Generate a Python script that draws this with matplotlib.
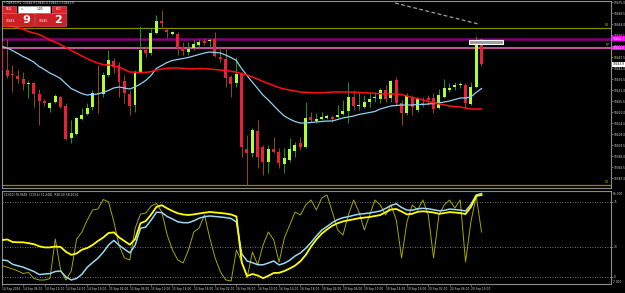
import numpy as np
import matplotlib.pyplot as plt
from matplotlib.patches import Rectangle

plt.rcParams['font.family'] = ['Liberation Sans Narrow', 'DejaVu Sans']

# GER30 H1, 14-20 Sep 2016
opens = [10455.0, 10441.0, 10438.5, 10438.0, 10436.5, 10434.0, 10434.5, 10429.0, 10425.5, 10422.0,
         10425.0, 10427.5, 10423.0, 10407.0, 10409.0, 10416.5, 10419.0, 10422.5, 10429.5, 10429.0,
         10438.5, 10445.5, 10443.5, 10435.5, 10429.0, 10423.5, 10440.0, 10451.0, 10449.5, 10459.5,
         10465.5, 10461.0, 10459.0, 10459.0, 10452.5, 10450.0, 10452.0, 10453.5, 10455.5, 10455.5,
         10456.5, 10447.5, 10446.5, 10437.5, 10434.5, 10439.5, 10401.5, 10399.5, 10410.5, 10402.5,
         10395.0, 10401.5, 10400.0, 10394.0, 10396.0, 10400.5, 10404.5, 10402.5, 10417.5, 10415.5,
         10416.5, 10417.0, 10417.5, 10417.5, 10419.0, 10420.5, 10427.5, 10423.0, 10422.5, 10425.0,
         10427.0, 10426.5, 10431.0, 10427.0, 10436.0, 10424.5, 10419.5, 10427.5, 10421.0, 10424.5,
         10427.0, 10427.0, 10422.0, 10427.5, 10431.0, 10432.5, 10433.5, 10433.5, 10424.0, 10432.5,
         10456.5]
highs = [10456.0, 10456.5, 10443.5, 10441.0, 10440.0, 10436.0, 10435.0, 10431.5, 10426.5, 10425.0,
         10429.0, 10428.0, 10424.5, 10416.0, 10417.5, 10422.0, 10424.5, 10431.0, 10443.5, 10440.0,
         10451.0, 10447.0, 10445.0, 10438.5, 10431.0, 10441.0, 10463.0, 10453.0, 10462.0, 10468.5,
         10471.0, 10462.0, 10460.5, 10460.0, 10455.0, 10455.0, 10456.0, 10456.5, 10457.0, 10457.0,
         10460.0, 10453.0, 10452.5, 10438.5, 10447.5, 10440.0, 10408.5, 10412.0, 10416.0, 10403.5,
         10403.5, 10407.5, 10402.0, 10402.0, 10407.0, 10405.0, 10407.5, 10425.0, 10420.0, 10419.5,
         10420.0, 10419.0, 10418.5, 10423.5, 10426.0, 10435.0, 10431.0, 10430.0, 10428.5, 10430.0,
         10430.0, 10432.0, 10433.5, 10436.0, 10437.5, 10426.0, 10429.5, 10428.5, 10427.5, 10427.5,
         10428.5, 10429.5, 10431.5, 10436.5, 10434.5, 10435.0, 10435.0, 10434.5, 10435.0, 10458.0,
         10457.0]
lows = [10433.5, 10437.0, 10430.0, 10434.5, 10431.0, 10427.0, 10422.5, 10413.5, 10423.0, 10420.0,
        10424.5, 10422.0, 10406.0, 10404.5, 10408.5, 10416.0, 10418.5, 10421.0, 10419.5, 10427.5,
        10437.5, 10439.5, 10427.5, 10424.5, 10418.5, 10420.0, 10439.5, 10447.5, 10448.5, 10459.0,
        10462.0, 10457.0, 10458.5, 10448.5, 10448.5, 10448.5, 10451.0, 10452.5, 10453.5, 10452.5,
        10447.5, 10445.0, 10432.5, 10427.5, 10432.5, 10397.5, 10383.5, 10397.5, 10392.0, 10388.5,
        10389.5, 10399.5, 10392.0, 10389.5, 10395.0, 10397.5, 10401.0, 10402.0, 10415.0, 10414.5,
        10416.0, 10416.5, 10415.0, 10417.0, 10418.5, 10414.5, 10421.0, 10421.0, 10422.0, 10422.5,
        10425.0, 10424.5, 10425.0, 10425.0, 10423.5, 10413.5, 10418.5, 10418.5, 10420.0, 10422.5,
        10423.5, 10419.5, 10421.5, 10427.0, 10430.0, 10431.0, 10432.0, 10422.0, 10423.5, 10432.0,
        10443.0]
closes = [10441.0, 10438.0, 10438.4, 10436.5, 10434.0, 10434.2, 10429.0, 10425.5, 10424.5, 10424.5,
          10428.0, 10422.5, 10406.5, 10409.5, 10417.0, 10418.5, 10422.0, 10429.5, 10429.3, 10438.5,
          10446.0, 10442.5, 10435.0, 10429.5, 10423.0, 10440.0, 10451.0, 10449.5, 10459.5, 10465.5,
          10464.5, 10460.0, 10460.0, 10452.0, 10450.5, 10451.5, 10454.0, 10455.0, 10454.5, 10455.6,
          10448.0, 10446.5, 10437.0, 10434.0, 10439.0, 10402.5, 10399.5, 10411.0, 10397.5, 10395.0,
          10401.5, 10400.0, 10394.5, 10397.0, 10401.5, 10403.5, 10402.5, 10417.0, 10416.0, 10416.5,
          10417.5, 10418.0, 10416.5, 10418.5, 10420.5, 10427.5, 10423.0, 10423.1, 10425.0, 10426.5,
          10427.1, 10431.0, 10426.5, 10435.5, 10424.5, 10419.5, 10428.0, 10422.5, 10426.5, 10424.0,
          10426.0, 10421.5, 10428.5, 10432.0, 10432.0, 10433.5, 10434.0, 10424.5, 10432.5, 10456.0,
          10443.9]

fast_ma = [10452.75, 10452.0, 10450.75, 10449.25, 10447.75, 10446.5, 10445.0, 10442.75, 10441.25, 10439.5,
           10438.25, 10436.75, 10434.25, 10431.75, 10430.5, 10429.25, 10428.5, 10428.75, 10429.0, 10429.75,
           10430.75, 10432.0, 10432.5, 10432.0, 10431.5, 10432.5, 10434.0, 10435.75, 10438.25, 10441.75,
           10443.25, 10444.75, 10445.75, 10446.25, 10446.75, 10447.25, 10448.0, 10448.75, 10449.5, 10450.0,
           10449.75, 10449.5, 10448.5, 10447.25, 10445.75, 10441.75, 10438.25, 10435.0, 10431.75, 10428.5,
           10426.0, 10423.25, 10420.5, 10418.0, 10416.5, 10415.25, 10414.5, 10414.5, 10414.75, 10415.0,
           10415.25, 10415.5, 10415.5, 10416.25, 10417.0, 10417.5, 10418.0, 10418.75, 10419.25, 10419.75,
           10420.25, 10421.5, 10422.25, 10423.0, 10423.25, 10423.5, 10423.5, 10423.5, 10423.75, 10423.75,
           10424.0, 10424.25, 10424.5, 10425.0, 10425.5, 10426.25, 10427.0, 10427.0, 10427.5, 10429.75,
           10431.75]
slow_ma = [10463.5, 10463.25, 10462.75, 10462.25, 10461.5, 10460.25, 10459.5, 10458.75, 10457.5, 10456.0,
           10455.0, 10453.75, 10452.25, 10450.75, 10449.5, 10448.0, 10446.75, 10445.5, 10444.5, 10443.75,
           10443.5, 10443.0, 10442.5, 10441.25, 10440.0, 10439.9, 10439.75, 10439.85, 10440.15, 10441.0,
           10441.5, 10441.85, 10442.0, 10442.0, 10441.85, 10441.6, 10441.6, 10441.75, 10441.65, 10441.5,
           10441.25, 10441.0, 10440.75, 10440.4, 10439.9, 10439.25, 10438.5, 10437.5, 10436.4, 10435.3,
           10434.25, 10433.25, 10432.2, 10431.5, 10431.0, 10430.5, 10430.0, 10429.85, 10429.7, 10429.5,
           10429.6, 10429.8, 10430.0, 10430.0, 10430.0, 10430.0, 10429.9, 10429.75, 10429.6, 10429.5,
           10429.3, 10429.15, 10429.0, 10429.0, 10429.0, 10428.75, 10428.0, 10427.25, 10426.75, 10426.0,
           10425.25, 10424.65, 10424.1, 10423.6, 10423.0, 10422.75, 10422.5, 10422.0, 10421.5, 10421.5,
           10421.5]

# indicator window (thick yellow, light blue, thin olive)
ind_yellow = [37.0, 37.5, 35.0, 34.7, 34.7, 33.8, 32.8, 30.7, 29.6, 29.6,
              30.5, 30.0, 25.2, 22.2, 23.5, 27.3, 29.0, 32.0, 36.0, 39.5,
              44.0, 44.6, 39.5, 35.9, 32.3, 38.0, 53.8, 56.0, 62.5, 70.1,
              71.8, 68.6, 66.0, 63.7, 62.5, 62.0, 62.6, 63.5, 64.3, 65.0,
              64.5, 64.0, 63.4, 62.5, 60.5, 14.5, 1.0, 3.0, 1.5, -1.2,
              1.2, 4.0, 4.2, 6.0, 8.5, 11.4, 15.7, 22.0, 30.4, 37.5,
              43.3, 47.6, 51.3, 53.8, 55.6, 56.7, 57.7, 58.8, 59.4, 60.0,
              61.0, 62.0, 64.8, 67.5, 68.0, 65.5, 62.6, 63.2, 65.2, 65.7,
              65.2, 64.5, 63.2, 63.9, 64.9, 64.5, 63.9, 63.0, 70.0, 81.0,
              82.0]
ind_blue = [17.0, 16.4, 12.7, 11.2, 9.8, 7.6, 5.5, 2.4, 3.0, 3.4,
            5.5, 6.0, 0.0, -3.0, -1.4, 2.7, 9.7, 14.4, 18.8, 24.7,
            32.0, 36.6, 31.7, 27.8, 24.0, 32.0, 48.7, 50.0, 57.0, 64.8,
            64.4, 60.5, 58.0, 55.2, 54.3, 54.3, 56.2, 58.8, 60.3, 61.0,
            60.5, 60.0, 59.4, 58.5, 55.0, 23.0, 16.0, 14.3, 12.3, 12.2,
            14.0, 16.0, 12.1, 13.7, 16.8, 21.0, 24.0, 28.7, 34.5, 41.0,
            46.8, 50.5, 54.4, 57.4, 59.3, 60.3, 61.7, 62.8, 63.4, 64.0,
            65.0, 66.0, 68.5, 71.5, 73.2, 69.5, 66.9, 66.8, 68.2, 68.7,
            68.2, 67.3, 66.2, 66.6, 67.9, 67.5, 66.9, 66.0, 72.5, 82.0,
            83.5]
ind_olive = [11.5, 9.7, 8.0, 6.0, 3.5, 4.5, -1.5, -3.0, -3.0, -1.5,
             38.0, 7.0, -3.0, 6.0, 38.0, 45.0, 57.0, 67.0, 68.0, 77.5,
             75.0, 55.0, 31.0, 19.0, 17.0, 49.0, 63.0, 64.0, 71.0, 73.5,
             65.0, 42.0, 27.0, 17.0, 14.0, 27.0, 45.0, 49.0, 62.0, 39.0,
             19.0, 5.0, -3.0, -4.0, 27.0, 15.0, -1.0, 25.0, 12.0, 32.0,
             45.0, 37.0, 15.0, 39.0, 52.0, 65.0, 62.0, 72.0, 77.0, 67.0,
             79.0, 82.0, 65.0, 47.0, 42.0, 62.0, 77.0, 65.0, 47.0, 62.0,
             77.0, 72.0, 62.0, 72.0, 57.0, 19.0, 55.0, 72.0, 67.0, 77.0,
             62.0, 19.0, 62.0, 72.0, 77.0, 69.0, 77.0, 15.0, 55.0, 81.0,
             45.0]
ind_levels = [75, 30, 0]

price_ticks = [10475.0, 10469.5, 10464.0, 10458.5, 10453.0, 10447.5, 10442.0, 10436.5, 10431.0,
               10425.5, 10420.0, 10414.5, 10409.0, 10403.5, 10398.0, 10392.5, 10387.0]
date_ticks = [0, 4, 8, 12, 16, 20, 24, 28, 32, 36, 40, 44, 48, 52, 56, 60, 64, 68, 72, 76, 80, 84, 88]
date_labels = ['14 Sep 2016', '14 Sep 06:00', '14 Sep 10:00', '14 Sep 14:00', '14 Sep 18:00',
               '15 Sep 02:00', '15 Sep 06:00', '15 Sep 10:00', '15 Sep 14:00', '15 Sep 18:00',
               '16 Sep 02:00', '16 Sep 06:00', '16 Sep 10:00', '16 Sep 14:00', '16 Sep 18:00',
               '19 Sep 02:00', '19 Sep 06:00', '19 Sep 10:00', '19 Sep 14:00', '19 Sep 18:00',
               '20 Sep 02:00', '20 Sep 06:00', '20 Sep 10:00']

# horizontal levels drawn on the chart
pivot_r1, pivot_pp, pivot_s1 = 10462.0, 10452.0, 10383.5
purple_level = 10456.7
trend_x, trend_y = [73.8, 89.4], [10474.5, 10464.0]
box_x, box_y = [87.7, 94.0], [10454.0, 10456.0]
bid, ask = '10443.9', '10445.2'

W, H = 625, 293
def fx(px): return px / W
def fy(py): return 1 - py / H

GREY = '#8c8c8c'
TXT = '#dcdcdc'
FS = 2.05

fig = plt.figure(figsize=(W / 100, H / 100), dpi=100, facecolor='black')
ax = fig.add_axes([fx(2), fy(188), fx(609), (188 - 1) / H])
ax2 = fig.add_axes([fx(2), fy(284), fx(609), (284 - 190.7) / H])

for a in (ax, ax2):
    a.set_facecolor('black')
    for s in a.spines.values():
        s.set_color(GREY)
        s.set_linewidth(0.8)
    a.yaxis.tick_right()
    a.tick_params(axis='y', direction='out', length=1.5, width=0.5, colors=GREY,
                  labelcolor=TXT, labelsize=FS, pad=0.4)
    a.set_xlim(0.05, 114.3)

o, h, l, c = map(np.array, (opens, highs, lows, closes))
x = np.arange(len(o))
up = c >= o

# candles
ax.vlines(x[up], l[up], h[up], color='#1f8f1f', lw=0.75, zorder=2)
ax.vlines(x[~up], l[~up], h[~up], color='#8b4a14', lw=0.75, zorder=2)
body_col = np.where(up, '#adff2f', '#e8213b')
ax.bar(x, np.maximum(np.abs(c - o), 0.45), bottom=np.minimum(o, c), width=0.56,
       color=body_col, linewidth=0, zorder=3)

# moving averages
ax.plot(x, fast_ma, color='#8fd3f5', lw=0.9, zorder=4)
ax.plot(x, slow_ma, color='#ff1010', lw=1.1, zorder=4)

# levels
ax.axhline(pivot_r1, color='#8a8a00', lw=0.9, zorder=1)
ax.axhline(pivot_s1, color='#8a8a00', lw=0.9, zorder=1)
ax.axhline(purple_level, color='#85007f', lw=1.8, zorder=1)
ax.axhline(pivot_pp, color='#ff6ad5', lw=1.1, zorder=1)
ax.plot(trend_x, trend_y, color='#a0a0a0', lw=0.9, ls=(0, (3, 2)), zorder=2)
ax.add_patch(Rectangle((box_x[0], box_y[0]), box_x[1] - box_x[0], box_y[1] - box_y[0],
                       fc='#9c9c9c', ec='white', lw=0.8, zorder=5))

ax.set_ylim(10382.0, 10475.5)
ax.set_yticks(price_ticks)
ax.set_yticklabels([f'{p:.1f}' for p in price_ticks])
ax.set_xticks([])

yt = ax.get_yaxis_transform()
for lvl, name in ((pivot_r1, 'R1'), (pivot_pp, 'PP'), (pivot_s1, 'S1')):
    ax.text(0.997, lvl + 0.3, name, transform=yt, ha='right', va='bottom',
            color='#b0b000', fontsize=2.3, zorder=6)
for lvl, fc, tc in ((purple_level, '#ff00ff', 'white'), (pivot_pp, '#ff00ff', 'white'),
                    (c[-1], 'white', 'black')):
    ax.text(1.0025, lvl, f'{lvl:.1f}', transform=yt, ha='left', va='center',
            color=tc, fontsize=FS, clip_on=False,
            bbox=dict(boxstyle='square,pad=0.12', fc=fc, ec='none'))

# indicator window
ax2.plot(x, ind_olive, color='#a6a600', lw=0.7, zorder=2)
ax2.plot(x, ind_blue, color='#9ad8f2', lw=1.1, zorder=3)
ax2.plot(x, ind_yellow, color='#ffff00', lw=1.3, zorder=3)
for lv in ind_levels:
    ax2.axhline(lv, color='#9a9a9a', lw=0.6, ls=(0, (1, 2)), zorder=1)
ax2.set_ylim(-7.0, 86.3)
ax2.set_yticks(ind_levels)
ax2.set_yticklabels([str(v) for v in ind_levels])
ax2.text(1.003, 0.985, '86.300', transform=ax2.transAxes, ha='left', va='top',
         color=TXT, fontsize=FS)
ax2.text(1.003, 0.005, '-7.000', transform=ax2.transAxes, ha='left', va='bottom',
         color=TXT, fontsize=FS)
ax2.text(0.003, 0.975, 'CCI(50) 76.9659  CCI(14) 31.2481  RSI(14) 58.2034',
         transform=ax2.transAxes, ha='left', va='top', color=TXT, fontsize=FS)
ax2.set_xticks(date_ticks)
ax2.set_xticklabels(date_labels, ha='left')
ax2.tick_params(axis='x', direction='out', length=1.5, width=0.5, colors=GREY,
                labelcolor=TXT, labelsize=FS, pad=0.8)

# header + one-click trading panel
fig.text(fx(4), fy(3.2), '\u2022 GER30,H1  10444.9 10445.0 10442.1 10443.9',
         color=TXT, fontsize=FS, va='center', ha='left')

def box(x0, y0, x1, y1, fc, ec):
    fig.add_artist(Rectangle((fx(x0), fy(y1)), (x1 - x0) / W, (y1 - y0) / H,
                             transform=fig.transFigure, fc=fc, ec=ec, lw=0.4, zorder=10))

box(2, 6, 16, 12.5, '#d8232a', '#ff7070')
box(17.5, 6, 50, 12.5, 'white', '#c0c0c0')
box(51.5, 6, 65.5, 12.5, '#d8232a', '#ff7070')
box(2, 13.5, 33.5, 25.5, '#cc1f26', '#ff6060')
box(35, 13.5, 66, 25.5, '#cc1f26', '#ff6060')
fig.text(fx(9), fy(9.3), 'SELL', color='white', fontsize=FS, ha='center', va='center', zorder=11)
fig.text(fx(58.5), fy(9.3), 'BUY', color='white', fontsize=FS, ha='center', va='center', zorder=11)
fig.text(fx(22), fy(9.3), '\u2261', color='#808080', fontsize=FS, ha='center', va='center', zorder=11)
fig.text(fx(40), fy(9.3), '1.00', color='black', fontsize=FS, ha='center', va='center', zorder=11)
fig.text(fx(11), fy(21.5), bid[:-1], color='white', fontsize=FS, ha='center', va='center', zorder=11)
fig.text(fx(26), fy(19.8), bid[-1], color='white', fontsize=8, fontweight='bold',
         ha='center', va='center', zorder=11)
fig.text(fx(44), fy(21.5), ask[:-1], color='white', fontsize=FS, ha='center', va='center', zorder=11)
fig.text(fx(58), fy(19.8), ask[-1], color='white', fontsize=8, fontweight='bold',
         ha='center', va='center', zorder=11)

fig.savefig('out.png', dpi=100, facecolor='black')
